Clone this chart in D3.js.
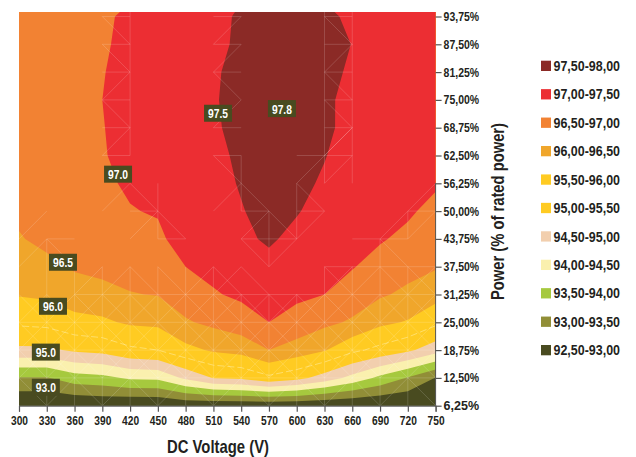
<!DOCTYPE html>
<meta charset="utf-8">
<style>
  html, body { margin: 0; padding: 0; background: #fff; }
  svg { display: block; }
  text { font-family: "Liberation Sans", sans-serif; font-weight: bold; fill: #231f20; }
  .tick text { font-size: 12.5px; }
</style>
<script src="https://d3js.org/d3.v7.min.js"></script>
<body>
<div id="my_dataviz"></div>
<script>

// axis values
var voltages = [300, 330, 360, 390, 420, 450, 480, 510, 540, 570, 600, 630, 660, 690, 720, 750];
var powerLevels = [6.25, 12.5, 18.75, 25, 31.25, 37.5, 43.75, 50, 56.25, 62.5, 68.75, 75, 81.25, 87.5, 93.75];

// efficiency (%), one row per voltage, bottom to top in power
var efficiency = [
  [92.5, 93.46, 94.9, 95.59, 96.03, 96.24, 96.46, 96.6, 96.66, 96.7, 96.72, 96.74, 96.75, 96.76, 96.76],
  [92.5, 93.46, 94.9, 95.64, 96.09, 96.36, 96.64, 96.72, 96.76, 96.78, 96.8, 96.8, 96.8, 96.8, 96.8],
  [92.51, 93.78, 95.08, 95.85, 96.25, 96.56, 96.7, 96.78, 96.82, 96.85, 96.87, 96.88, 96.88, 96.88, 96.88],
  [92.55, 93.86, 95.16, 95.92, 96.31, 96.66, 96.8, 96.88, 96.9, 96.93, 96.97, 97.0, 96.97, 96.9, 96.85],
  [92.5, 94.07, 95.41, 96.07, 96.48, 96.65, 96.81, 96.97, 97.08, 97.3, 97.28, 97.3, 97.22, 97.22, 97.18],
  [92.5, 94.1, 95.5, 96.11, 96.52, 96.7, 96.87, 97.05, 97.25, 97.3, 97.32, 97.33, 97.3, 97.28, 97.26],
  [92.6, 94.6, 95.85, 96.45, 96.74, 97.0, 97.3, 97.32, 97.34, 97.36, 97.38, 97.38, 97.36, 97.34, 97.32],
  [92.6, 95.02, 96.07, 96.61, 96.96, 97.12, 97.3, 97.33, 97.33, 97.36, 97.42, 97.45, 97.42, 97.36, 97.36],
  [92.6, 95.1, 96.18, 96.78, 97.08, 97.25, 97.41, 97.47, 97.54, 97.6, 97.68, 97.7, 97.7, 97.6, 97.57],
  [92.6, 95.4, 96.5, 97.0, 97.19, 97.37, 97.56, 97.68, 97.74, 97.78, 97.8, 97.82, 97.82, 97.8, 97.78],
  [92.6, 95.16, 96.29, 96.82, 97.09, 97.23, 97.38, 97.53, 97.62, 97.68, 97.72, 97.75, 97.76, 97.76, 97.74],
  [92.55, 94.78, 96.04, 96.61, 97.0, 97.13, 97.24, 97.34, 97.44, 97.52, 97.58, 97.6, 97.66, 97.68, 97.65],
  [92.5, 94.34, 95.61, 96.44, 96.76, 97.03, 97.13, 97.2, 97.26, 97.3, 97.37, 97.34, 97.42, 97.49, 97.37],
  [92.5, 93.87, 95.36, 96.11, 96.56, 96.8, 97.05, 97.15, 97.2, 97.22, 97.22, 97.22, 97.25, 97.25, 97.22],
  [92.5, 93.46, 95.1, 95.96, 96.4, 96.66, 96.87, 97.08, 97.12, 97.15, 97.15, 97.15, 97.15, 97.15, 97.15],
  [92.5, 92.98, 94.72, 95.61, 96.19, 96.54, 96.72, 96.84, 97.07, 97.12, 97.12, 97.12, 97.12, 97.12, 97.12]
];

// legend, top to bottom
var bandLabels = ["97,50-98,00", "97,00-97,50", "96,50-97,00", "96,00-96,50", "95,50-96,00", "95,00-95,50",
                  "94,50-95,00", "94,00-94,50", "93,50-94,00", "93,00-93,50", "92,50-93,00"];
var bandFloors = [97.5, 97, 96.5, 96, 95.5, 95, 94.5, 94, 93.5, 93, 92.5];
var bandColors = ["#8b2a26", "#ec2e33", "#f28233", "#f0a62b", "#ffcb22", "#ffcb22",
                  "#f2cfae", "#faf0ae", "#a6c93e", "#918e37", "#494b20"];

// contour labels
var labelTexts = ["97.5", "97.8", "97.0", "96.5", "96.0", "95.0", "93.0"];
var labelVolts = [515, 584, 407, 347.5, 336.7, 329, 329];
var labelPower = [72, 73.05, 58.3, 38.5, 28.6, 18.3, 10.4];

// faint mesh left behind in the original, [voltage, power from, power to]
var meshVertical = [
  [330, 6.25, 43.75], [360, 6.25, 37.5], [390, 6.25, 37.5], [420, 6.25, 37.5], [450, 6.25, 37.5], [480, 6.25, 37.5],
  [510, 6.25, 37.5], [540, 6.25, 31.25], [570, 6.25, 31.25], [600, 6.25, 31.25], [630, 6.25, 37.5], [660, 6.25, 37.5],
  [690, 6.25, 43.75], [720, 6.25, 37.5], [720, 43.75, 50],
  [420, 62.5, 95], [450, 43.75, 56.25], [540, 50, 62.5], [570, 37.5, 50], [600, 43.75, 56.25],
  [630, 56.25, 95], [660, 56.25, 95]
];
// [power, voltage from, voltage to]
var meshHorizontal = [
  [12.5, 300, 750], [18.75, 300, 750], [25, 300, 750], [31.25, 360, 750], [37.5, 630, 750], [43.75, 330, 360],
  [43.75, 450, 480], [43.75, 540, 600], [43.75, 660, 720], [50, 420, 450], [50, 540, 570], [50, 600, 630], [50, 720, 750],
  [62.5, 390, 420], [68.75, 390, 420], [75, 390, 420], [81.25, 390, 420], [87.5, 390, 420], [93.75, 390, 420],
  [62.5, 510, 540], [68.75, 510, 540], [81.25, 510, 540], [87.5, 510, 540], [93.75, 510, 540],
  [62.5, 600, 660], [68.75, 630, 660], [75, 630, 660], [81.25, 630, 660], [87.5, 630, 660], [93.75, 630, 660]
];
// cell diagonals, [voltage at the left, power at the top of the cell]
var meshDown = [
  [420, 37.5], [450, 37.5], [510, 37.5], [630, 37.5], [690, 37.5], [720, 37.5], [330, 43.75], [540, 43.75], [690, 43.75],
  [420, 56.25], [450, 50], [510, 62.5], [540, 56.25], [570, 50], [600, 56.25], [540, 37.5],
  [390, 93.75], [390, 87.5], [390, 75], [510, 81.25], [630, 93.75], [630, 81.25], [630, 75]
];
var meshUp = [
  [360, 37.5], [390, 37.5], [480, 37.5], [510, 37.5], [630, 37.5], [660, 37.5], [720, 37.5], [300, 43.75], [300, 50],
  [390, 56.25], [420, 50], [510, 56.25], [540, 50], [570, 43.75], [600, 50], [600, 62.5], [630, 62.5], [630, 68.75],
  [690, 50], [720, 50], [720, 56.25], [390, 81.25], [390, 68.75], [510, 93.75], [510, 87.5], [510, 75],
  [630, 87.5], [630, 68.75]
];

var plotLeft = 19, plotRight = 435.6, plotTop = 12, plotBottom = 405.7;

var svg = d3.select("#my_dataviz")
  .append("svg")
    .attr("width", 636)
    .attr("height", 457);

var x = d3.scaleLinear().domain([300, 750]).range([plotLeft, plotRight]);
var y = d3.scaleLinear().domain([6.25, 93.75]).range([plotBottom, 16.5]);

svg.append("clipPath")
    .attr("id", "plot-clip")
  .append("rect")
    .attr("x", plotLeft)
    .attr("y", plotTop)
    .attr("width", plotRight - plotLeft)
    .attr("height", plotBottom - plotTop);

var plot = svg.append("g").attr("clip-path", "url(#plot-clip)");

// flatten for d3.contours, which wants x to run fastest
var grid = [];
powerLevels.forEach(function(p, row) {
  voltages.forEach(function(v, col) { grid.push(efficiency[col][row]); });
});

// contour coordinates have the grid values at i + 0.5
var project = d3.geoTransform({
  point: function(cx, cy) {
    this.stream.point(x(300 + (cx - 0.5) * 30), y(6.25 + (cy - 0.5) * 6.25));
  }
});
var path = d3.geoPath(project);

var contours = d3.contours()
  .size([voltages.length, powerLevels.length])
  .thresholds(bandFloors.slice().reverse());

var bands = contours(grid);

plot.append("rect")
    .attr("x", plotLeft)
    .attr("y", plotTop)
    .attr("width", plotRight - plotLeft)
    .attr("height", plotBottom - plotTop)
    .style("fill", bandColors[bandColors.length - 1]);

plot.selectAll("path.band")
  .data(bands)
  .enter()
  .append("path")
    .attr("class", "band")
    .attr("d", path)
    .style("fill", function(d) { return bandColors[bandFloors.indexOf(d.value)]; });

// 95.5 has the same colour on both sides, the original only shows a dashed line
plot.append("path")
    .attr("d", path(bands.filter(function(d) { return d.value == 95.5; })[0]))
    .style("fill", "none")
    .style("stroke", "#ffe68a")
    .style("stroke-width", 0.7)
    .style("stroke-dasharray", "7 3");

// mesh
var segments = [];
meshVertical.forEach(function(d) { segments.push([d[0], d[1], d[0], d[2]]); });
meshHorizontal.forEach(function(d) { segments.push([d[1], d[0], d[2], d[0]]); });
meshDown.forEach(function(d) { segments.push([d[0], d[1], d[0] + 30, d[1] - 6.25]); });
meshUp.forEach(function(d) { segments.push([d[0], d[1] - 6.25, d[0] + 30, d[1]]); });
// lower rows are crossed in nearly every cell
[31.25, 25, 18.75].forEach(function(p) {
  voltages.slice(0, -1).forEach(function(v) {
    segments.push([v, p, v + 30, p - 6.25]);
    segments.push([v, p - 6.25, v + 30, p]);
  });
});
voltages.slice(0, -1).forEach(function(v, i) {
  if (i % 2 == 0) segments.push([v, 12.5, v + 30, 6.25]);
  else segments.push([v, 6.25, v + 30, 12.5]);
});

plot.selectAll("line.mesh")
  .data(segments)
  .enter()
  .append("line")
    .attr("class", "mesh")
    .attr("x1", function(d) { return x(d[0]); })
    .attr("y1", function(d) { return y(d[1]); })
    .attr("x2", function(d) { return x(d[2]); })
    .attr("y2", function(d) { return y(d[3]); })
    .style("stroke", "#fff")
    .style("stroke-opacity", 0.2)
    .style("stroke-width", 0.8);

// axes
var xAxis = svg.append("g")
    .attr("transform", "translate(0," + plotBottom + ")")
    .call(d3.axisBottom(x).tickValues(voltages).tickSize(6).tickPadding(4).tickFormat(d3.format("d")));

var yAxis = svg.append("g")
    .attr("transform", "translate(" + plotRight + ",0)")
    .call(d3.axisRight(y).tickValues(powerLevels).tickSize(6).tickPadding(2)
      .tickFormat(function(d) { return d3.format(".2f")(d).replace(".", ",") + "%"; }));

// the only narrow look available is squeezing the glyphs to the measured widths
xAxis.selectAll(".tick text").attr("textLength", 17).attr("lengthAdjust", "spacingAndGlyphs");
yAxis.selectAll(".tick text").attr("textLength", 35.5).attr("lengthAdjust", "spacingAndGlyphs");

yAxis.select(".domain").remove();
yAxis.append("line")
    .attr("y1", y(6.25))
    .attr("y2", y(56.25))
    .style("stroke", "#555");

xAxis.select(".domain").style("stroke", "#555");
svg.selectAll(".tick line").style("stroke", "#555").style("stroke-width", 1.2);

svg.append("text")
    .attr("x", 218)
    .attr("y", 452.5)
    .attr("text-anchor", "middle")
    .attr("textLength", 102)
    .attr("lengthAdjust", "spacingAndGlyphs")
    .style("font-size", "19px")
    .text("DC Voltage (V)");

svg.append("text")
    .attr("transform", "translate(504,211.5) rotate(-90)")
    .attr("text-anchor", "middle")
    .attr("textLength", 177)
    .attr("lengthAdjust", "spacingAndGlyphs")
    .style("font-size", "19px")
    .text("Power (% of rated power)");

// contour labels
var labels = svg.selectAll("g.contour-label")
  .data(labelTexts)
  .enter()
  .append("g")
    .attr("class", "contour-label")
    .attr("transform", function(d, i) { return "translate(" + x(labelVolts[i]) + "," + y(labelPower[i]) + ")"; });

labels.append("rect")
    .attr("x", -14)
    .attr("y", -8.5)
    .attr("width", 28)
    .attr("height", 17)
    .style("fill", "#494b20");

labels.append("text")
    .attr("text-anchor", "middle")
    .attr("y", 5)
    .attr("textLength", 20)
    .attr("lengthAdjust", "spacingAndGlyphs")
    .style("font-size", "13.5px")
    .style("fill", "#fff")
    .text(function(d) { return d; });

// legend
var legend = svg.selectAll("g.legend")
  .data(bandLabels)
  .enter()
  .append("g")
    .attr("class", "legend")
    .attr("transform", function(d, i) { return "translate(541," + (60.7 + i * 28.43) + ")"; });

legend.append("rect")
    .attr("width", 10)
    .attr("height", 10.3)
    .style("fill", function(d, i) { return bandColors[i]; });

legend.append("text")
    .attr("x", 12.5)
    .attr("y", 10.3)
    .attr("textLength", 66.5)
    .attr("lengthAdjust", "spacingAndGlyphs")
    .style("font-size", "14.5px")
    .text(function(d) { return d; });

</script>
</body>
